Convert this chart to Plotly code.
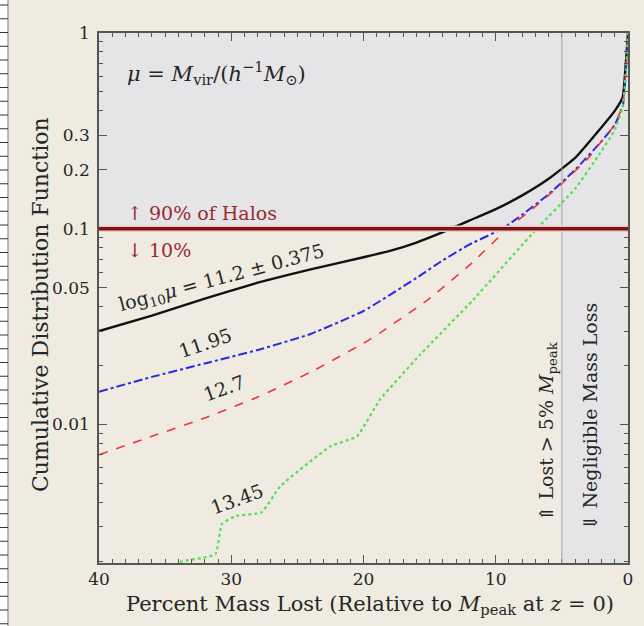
import numpy as np
import plotly.graph_objects as go

# Cumulative fraction of haloes vs. percent of peak mass lost, four mass bins
x_lo = [40, 36, 32, 28, 24, 20, 18, 16, 14, 12, 10, 8, 6, 4, 2, 1, 0.4, 0.15, 0]
cdf_lo = [0.030, 0.036, 0.044, 0.053, 0.062, 0.0715, 0.077, 0.085, 0.096, 0.110,
          0.126, 0.148, 0.180, 0.230, 0.330, 0.400, 0.470, 0.720, 1.0]

x_mid = [40, 36, 32, 28, 24, 20, 16, 14, 12, 9.5, 8, 6, 4, 2, 1, 0.4, 0.15, 0]
cdf_mid = [0.0147, 0.0175, 0.0205, 0.024, 0.029, 0.038, 0.056, 0.069, 0.083, 0.100,
           0.118, 0.150, 0.200, 0.280, 0.340, 0.420, 0.650, 1.0]

x_hi = [40, 36, 32, 28, 24, 20, 18.75, 15.2, 12, 9.1, 7, 5, 3, 2, 1, 0.4, 0.15, 0]
cdf_hi = [0.0070, 0.0087, 0.0108, 0.0138, 0.0185, 0.026, 0.0294, 0.043, 0.065, 0.100,
          0.130, 0.170, 0.230, 0.280, 0.340, 0.430, 0.650, 1.0]

x_top = [34.8, 33.9, 32.4, 31.2, 30.7, 29.7, 27.7, 26.3, 22.5, 20.5, 18.75, 15.7,
         11.7, 6.9, 4, 2.1, 1, 0.4, 0.15, 0]
cdf_top = [0.0017, 0.00198, 0.00207, 0.00217, 0.0031, 0.0034, 0.00356, 0.00483,
           0.00773, 0.0087, 0.0134, 0.0228, 0.0434, 0.100, 0.160, 0.244, 0.320,
           0.420, 0.650, 1.0]

y_tickvals = [0.01, 0.05, 0.1, 0.2, 0.3, 1]
y_ticktext = ["0.01", "0.05", "0.1", "0.2", "0.3", "1"]
x_tickvals = [0, 10, 20, 30, 40]

Y_MIN = 0.00196
CUT = 0.1        # 90% / 10% divider
NEGLIGIBLE = 5   # percent

FONT = "DejaVu Serif"
INK = "#262626"
DARKRED = "#9a2a2e"
BEIGE = "#efebe1"
SHADE = "#e5e5e8"

ylog_min = np.log10(Y_MIN)


def ydom(v):
    return (np.log10(v) - ylog_min) / (0 - ylog_min)


fig = go.Figure()

series = [
    (x_lo, cdf_lo, "#111111", "solid", 2.4),
    (x_mid, cdf_mid, "#2b2bdc", "dashdot", 2.0),
    (x_hi, cdf_hi, "#e8393a", "dash", 1.6),
    (x_top, cdf_top, "#55dd55", "dot", 2.2),
]
for xs, ys, col, dash, w in series:
    fig.add_trace(go.Scatter(x=xs, y=ys, mode="lines",
                             line=dict(color=col, dash=dash, width=w, shape="spline",
                                       smoothing=0.4),
                             showlegend=False, hoverinfo="skip"))

minor_y = [m * 10.0 ** e for e in (-3, -2, -1) for m in range(2, 10)
           if m * 10.0 ** e >= Y_MIN and round(m * 10.0 ** e, 6) not in y_tickvals]

shapes = [
    # shaded regions: above the 10% line, and the negligible-loss strip
    dict(type="rect", xref="x", yref="y domain", x0=40, x1=0,
         y0=ydom(CUT), y1=1, fillcolor=SHADE, line_width=0, layer="below"),
    dict(type="rect", xref="x", yref="y domain", x0=NEGLIGIBLE, x1=0,
         y0=0, y1=ydom(CUT), fillcolor=SHADE, line_width=0, layer="below"),
    dict(type="line", xref="x", yref="y domain", x0=NEGLIGIBLE, x1=NEGLIGIBLE,
         y0=0, y1=1, line=dict(color="#a0a0a0", width=1)),
    dict(type="line", xref="paper", yref="y domain", x0=0, x1=1,
         y0=ydom(CUT), y1=ydom(CUT), line=dict(color="#f0c8c2", width=6.5)),
    dict(type="line", xref="paper", yref="y domain", x0=0, x1=1,
         y0=ydom(CUT), y1=ydom(CUT), line=dict(color="#7a1619", width=3.5)),
]

# white page margin strip with ruled lines at the far left
px_w, px_h, left, top = 644, 626, 99, 33
plot_w, plot_h = 529, 530


def pxx(p):
    return (p - left) / plot_w


def pxy(p):
    return (top + plot_h - p) / plot_h


shapes.append(dict(type="rect", xref="paper", yref="paper", x0=pxx(0), x1=pxx(8),
                   y0=pxy(px_h), y1=pxy(0), fillcolor="white", line_width=0))
shapes.append(dict(type="line", xref="paper", yref="paper", x0=pxx(8), x1=pxx(8),
                   y0=pxy(px_h), y1=pxy(0), line=dict(color="#777", width=1)))
for k in range(46):
    yy = 5 + 13.75 * k
    shapes.append(dict(type="line", xref="paper", yref="paper", x0=pxx(0), x1=pxx(8),
                       y0=pxy(yy), y1=pxy(yy), line=dict(color="#333", width=1)))

ann_font = dict(family=FONT, size=19, color=INK)
annotations = [
    dict(x=38.0, y=-0.204, xanchor="left", yanchor="middle", showarrow=False,
         text="<i>μ</i> = <i>M</i><sub>vir</sub>/(<i>h</i><sup>−1</sup><i>M</i><sub>⊙</sub>)",
         font=dict(family=FONT, size=21, color=INK)),
    dict(x=38.0, y=-0.918, xanchor="left", yanchor="middle", showarrow=False,
         text="↑ 90% of Halos", font=dict(family=FONT, size=19, color=DARKRED)),
    dict(x=38.0, y=-1.107, xanchor="left", yanchor="middle", showarrow=False,
         text="↓ 10%", font=dict(family=FONT, size=19, color=DARKRED)),
    dict(x=30.7, y=-1.255, showarrow=False, textangle=-15,
         xanchor="center", yanchor="middle",
         text="log<sub>10</sub><i>μ</i> = 11.2 ± 0.375", font=ann_font),
    dict(x=32.0, y=-1.582, showarrow=False, textangle=-19,
         xanchor="center", yanchor="middle", text="11.95", font=ann_font),
    dict(x=30.55, y=-1.816, showarrow=False, textangle=-20,
         xanchor="center", yanchor="middle", text="12.7", font=ann_font),
    dict(x=29.57, y=-2.383, showarrow=False, textangle=-20,
         xanchor="center", yanchor="middle", text="13.45", font=ann_font),
    dict(x=6.12, y=-2.036, showarrow=False, textangle=-90,
         xanchor="center", yanchor="middle",
         text="⇑ Lost > 5% <i>M</i><sub>peak</sub>", font=ann_font),
    dict(x=2.87, y=-1.959, showarrow=False, textangle=-90,
         xanchor="center", yanchor="middle",
         text="⇓ Negligible Mass Loss", font=ann_font),
    dict(xref="paper", yref="paper", x=pxx(40), y=pxy(305), showarrow=False,
         xanchor="center", yanchor="middle", textangle=-90,
         text="Cumulative Distribution Function",
         font=dict(family=FONT, size=22, color=INK)),
    dict(xref="paper", yref="paper", x=pxx(370), y=pxy(605), showarrow=False,
         xanchor="center", yanchor="middle",
         text="Percent Mass Lost (Relative to <i>M</i><sub>peak</sub> at <i>z</i> = 0)",
         font=dict(family=FONT, size=21, color=INK)),
]

axis_common = dict(showline=True, linecolor="#555", linewidth=1.5, mirror="ticks",
                   ticks="inside", tickcolor="#555", tickwidth=1.2, ticklen=8,
                   showgrid=False, zeroline=False,
                   tickfont=dict(family=FONT, size=17, color=INK))

fig.update_layout(
    width=px_w, height=px_h,
    margin=dict(l=left, r=px_w - left - plot_w, t=top, b=px_h - top - plot_h),
    paper_bgcolor=BEIGE, plot_bgcolor=BEIGE,
    shapes=shapes, annotations=annotations,
    xaxis=dict(range=[40, 0], tickmode="array", tickvals=x_tickvals,
               minor=dict(dtick=1, ticklen=4, ticks="inside", tickcolor="#555"),
               **axis_common),
    yaxis=dict(type="log", range=[ylog_min, 0], tickmode="array",
               tickvals=y_tickvals, ticktext=y_ticktext, ticklabelstandoff=4,
               minor=dict(tickmode="array", tickvals=minor_y, ticklen=4,
                          ticks="inside", tickcolor="#555"),
               **axis_common),
)

fig.write_html("out.html")
